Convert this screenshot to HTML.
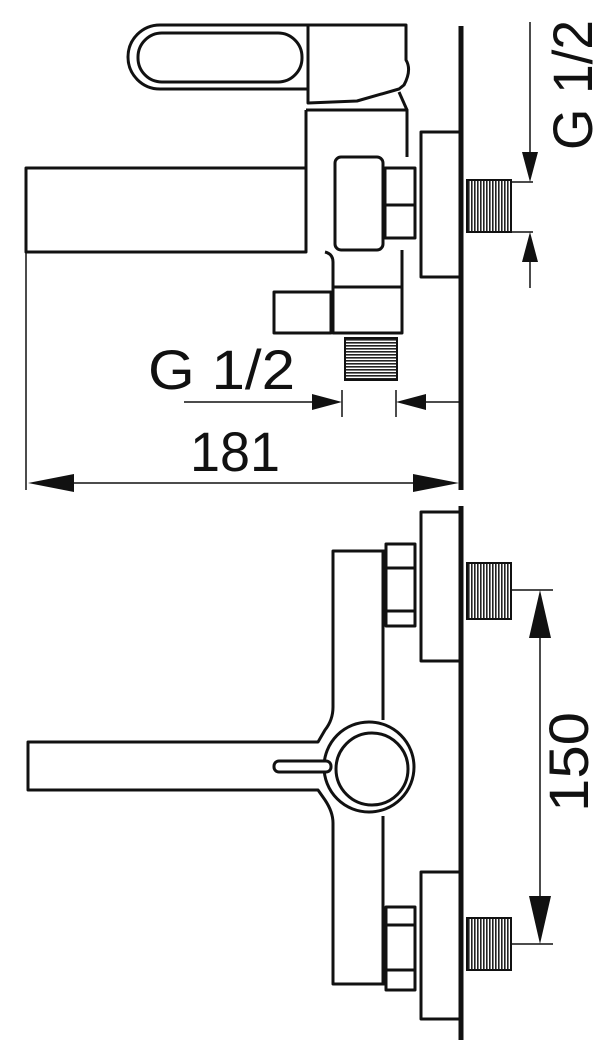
<!DOCTYPE html>
<html><head><style>html,body{margin:0;padding:0;background:#fff}svg{display:block}</style></head>
<body>
<svg width="600" height="1046" viewBox="0 0 600 1046" xmlns="http://www.w3.org/2000/svg">
<defs>
<pattern id="vt" width="3" height="10" patternUnits="userSpaceOnUse"><rect width="3" height="10" fill="#fff"/><rect x="0" width="1.6" height="10" fill="#222"/></pattern>
<pattern id="ht" width="10" height="3" patternUnits="userSpaceOnUse"><rect width="10" height="3" fill="#fff"/><rect y="0" width="10" height="1.6" fill="#222"/></pattern>
</defs>
<g fill="none" stroke="#111" stroke-width="3" stroke-linejoin="round">
<line x1="461" y1="26" x2="461" y2="490" stroke-width="5"/>
<path d="M406,25 L160,25 A32,32 0 0 0 160,89 L308,89"/>
<rect x="138" y="33" width="164" height="49" rx="24"/>
<path d="M308,25 L406,25 L406,60 Q412,70 404,85 L399,89 L357,101 L308,103 Z"/>
<path d="M399,92 L407,110"/>
<path d="M306,110 L306,168 M306,110 L407,110 L407,157"/>
<rect x="26" y="168" width="280" height="84"/>
<line x1="26" y1="252" x2="26" y2="490" stroke-width="1.5"/>
<rect x="335" y="157" width="48" height="93" rx="6"/>
<path d="M385,168 L415,168 L415,238 L385,238 Z M385,205 L415,205"/>
<path d="M459,132 L421,132 L421,277 L459,277"/>
<path d="M325,252 Q333,254 333,262 L333,333 L402,333 L402,250 M333,287 L402,287"/>
<rect x="274" y="292" width="57" height="41"/>
<line x1="184" y1="402" x2="322" y2="402" stroke-width="1.5"/>
<line x1="342" y1="390" x2="342" y2="417" stroke-width="1.5"/>
<line x1="396" y1="390" x2="396" y2="417" stroke-width="1.5"/>
<line x1="412" y1="402" x2="461" y2="402" stroke-width="1.5"/>
<line x1="530" y1="22" x2="530" y2="165" stroke-width="1.5"/>
<line x1="530" y1="250" x2="530" y2="288" stroke-width="1.5"/>
<line x1="511" y1="182" x2="533" y2="182" stroke-width="1.5"/>
<line x1="511" y1="232" x2="533" y2="232" stroke-width="1.5"/>
<line x1="70" y1="483" x2="418" y2="483" stroke-width="1.5"/>

<line x1="461" y1="506" x2="461" y2="1040" stroke-width="5"/>
<path d="M459,512 L421,512 L421,661 L459,661"/>
<path d="M459,872 L421,872 L421,1019 L459,1019"/>
<path d="M386,544 L415,544 L415,626 L386,626 Z M386,568 L415,568 M386,611 L415,611"/>
<path d="M386,907 L415,907 L415,990 L386,990 Z M386,925 L415,925 M386,970 L415,970"/>
<path d="M386,551 L333,551 L333,707 Q333,720 325,730 L318,742 L28,742 L28,790 L318,790 L325,800 Q333,812 333,823 L333,984 L386,984"/>
<path d="M383,551 L383,720 M383,816 L383,984"/>
<circle cx="369" cy="767" r="45"/>
<circle cx="372" cy="769" r="36"/>
<rect x="274" y="761" width="57" height="11" rx="5" fill="#fff"/>
<line x1="511" y1="590" x2="553" y2="590" stroke-width="1.5"/>
<line x1="511" y1="944" x2="553" y2="944" stroke-width="1.5"/>
<line x1="540" y1="630" x2="540" y2="905" stroke-width="1.5"/>
</g>
<g stroke="#111" stroke-width="2">
<rect x="467" y="180" width="44" height="52" fill="url(#vt)"/>
<rect x="345" y="338" width="52" height="42" fill="url(#ht)"/>
<rect x="467" y="563" width="44" height="56" fill="url(#vt)"/>
<rect x="467" y="918" width="44" height="52" fill="url(#vt)"/>
</g>
<g fill="#111">
<polygon points="530,182 522,152 538,152"/>
<polygon points="530,232 522,262 538,262"/>
<polygon points="342,402 312,394 312,410"/>
<polygon points="396,402 426,394 426,410"/>
<polygon points="28,483 74,474 74,492"/>
<polygon points="459,483 413,474 413,492"/>
<polygon points="540,590 529,638 551,638"/>
<polygon points="540,944 529,896 551,896"/>
</g>
<g font-family="Liberation Sans, sans-serif" fill="#111" font-size="56">
<text x="148" y="389" textLength="147" lengthAdjust="spacingAndGlyphs">G 1/2</text>
<text x="190" y="471" textLength="90" lengthAdjust="spacingAndGlyphs">181</text>
<text transform="translate(592,150) rotate(-90)" textLength="130" lengthAdjust="spacingAndGlyphs">G 1/2</text>
<text transform="translate(588,812) rotate(-90)" textLength="100" lengthAdjust="spacingAndGlyphs">150</text>
</g>
</svg>
</body></html>
